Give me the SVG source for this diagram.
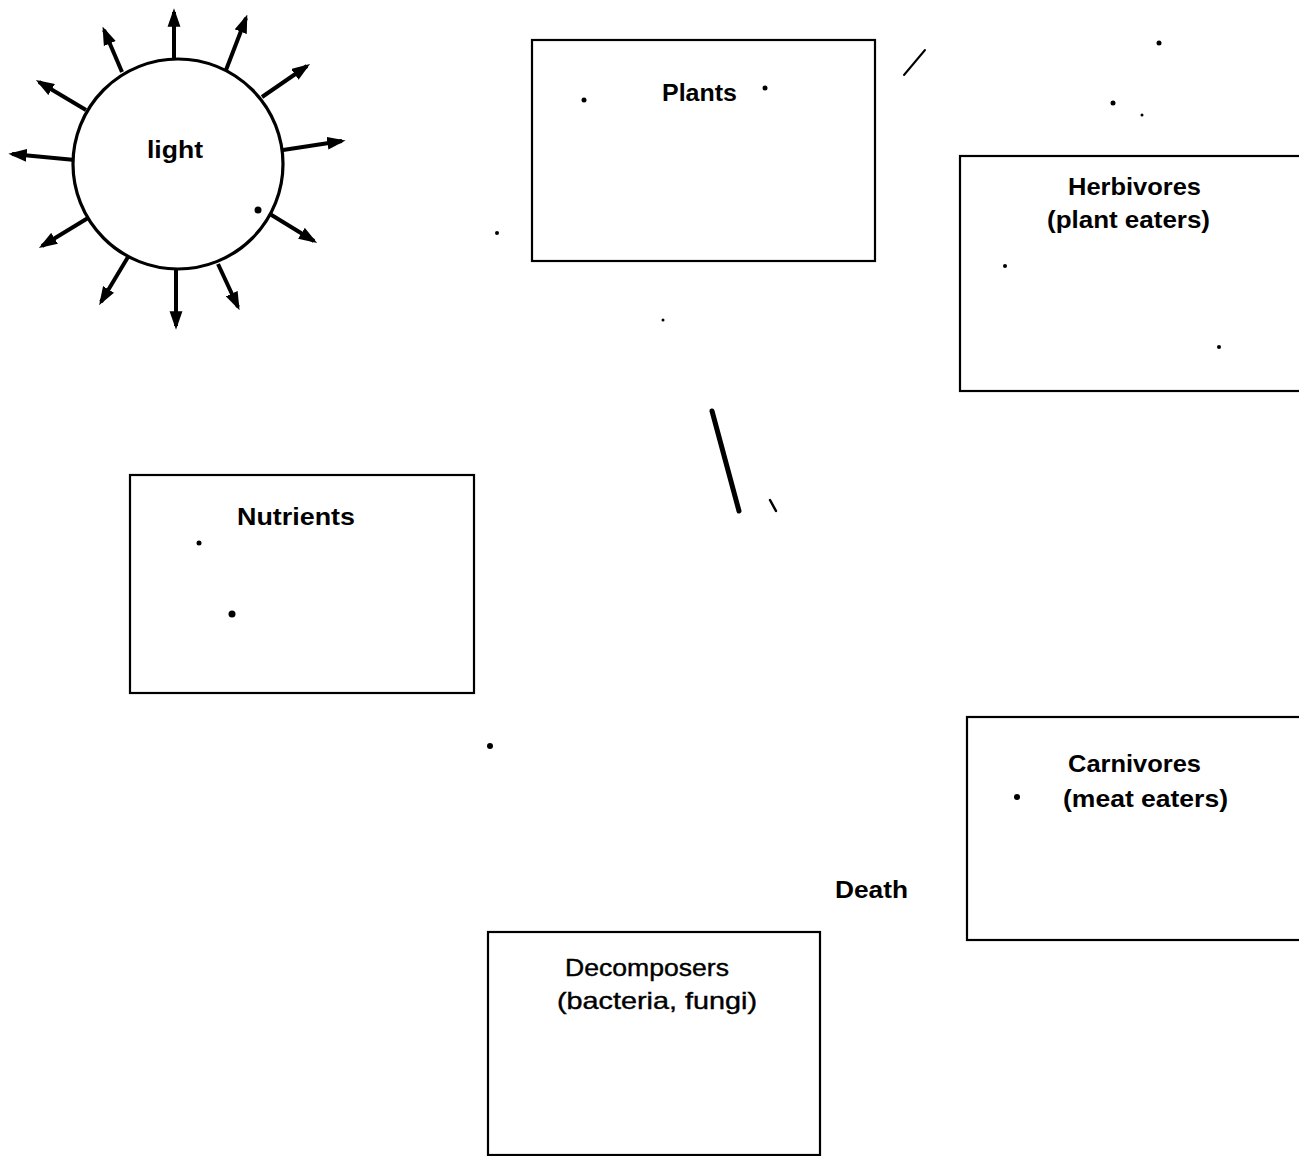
<svg xmlns="http://www.w3.org/2000/svg" width="1299" height="1156" viewBox="0 0 1299 1156">
  <style>
    .box { fill: #ffffff; stroke: #000000; stroke-width: 2.2; }
    .lbl { font-family: "Liberation Sans", Arial, sans-serif; font-size: 24px; font-weight: bold; fill: #000000; }
    .lbl2 { font-family: "Liberation Sans", Arial, sans-serif; font-size: 24px; fill: #000000; stroke: #000000; stroke-width: 0.4; }
    .ray { stroke: #000000; stroke-width: 4; fill: none; marker-end: url(#head); }
    .speck { fill: #000000; }
  </style>
  <defs>
    <marker id="head" viewBox="0 0 10 7" refX="8" refY="3.5" markerWidth="4.6" markerHeight="3.3" orient="auto" markerUnits="strokeWidth">
      <path d="M0,0 L10,3.5 L0,7 Z" fill="#000000"/>
    </marker>
  </defs>
  <rect width="1299" height="1156" fill="#ffffff"/>

  <!-- sun with radiating light arrows -->
  <g id="sun">
    <g id="rays">
      <line class="ray" x1="174" y1="58" x2="174" y2="12"/>
      <line class="ray" x1="226" y1="70" x2="246" y2="18"/>
      <line class="ray" x1="262" y1="97" x2="307" y2="66"/>
      <line class="ray" x1="283" y1="150" x2="342" y2="141"/>
      <line class="ray" x1="265" y1="211" x2="314" y2="241"/>
      <line class="ray" x1="218" y1="264" x2="238" y2="307"/>
      <line class="ray" x1="176" y1="269" x2="176" y2="326"/>
      <line class="ray" x1="128" y1="257" x2="101" y2="302"/>
      <line class="ray" x1="88" y1="218" x2="42" y2="246"/>
      <line class="ray" x1="75" y1="160" x2="12" y2="154"/>
      <line class="ray" x1="86" y1="110" x2="39" y2="82"/>
      <line class="ray" x1="122" y1="72" x2="104" y2="30"/>
    </g>
    <circle cx="178" cy="164" r="105" fill="#ffffff" stroke="#000000" stroke-width="3.2"/>
    <text class="lbl" x="175" y="158" text-anchor="middle" textLength="56" lengthAdjust="spacingAndGlyphs">light</text>
  </g>

  <g id="plants">
    <rect class="box" x="532" y="40" width="343" height="221"/>
    <text class="lbl" x="662" y="101" textLength="75" lengthAdjust="spacingAndGlyphs">Plants</text>
  </g>

  <g id="herbivores">
    <rect class="box" x="960" y="156" width="345" height="235"/>
    <text class="lbl" x="1068" y="195" textLength="133" lengthAdjust="spacingAndGlyphs">Herbivores</text>
    <text class="lbl" x="1047" y="228" textLength="163" lengthAdjust="spacingAndGlyphs">(plant eaters)</text>
  </g>

  <g id="nutrients">
    <rect class="box" x="130" y="475" width="344" height="218"/>
    <text class="lbl" x="237" y="525" textLength="118" lengthAdjust="spacingAndGlyphs">Nutrients</text>
  </g>

  <g id="carnivores">
    <rect class="box" x="967" y="717" width="338" height="223"/>
    <text class="lbl" x="1068" y="772" textLength="133" lengthAdjust="spacingAndGlyphs">Carnivores</text>
    <text class="lbl" x="1063" y="807" textLength="165" lengthAdjust="spacingAndGlyphs">(meat eaters)</text>
  </g>

  <g id="decomposers">
    <rect class="box" x="488" y="932" width="332" height="223"/>
    <text class="lbl2" x="565" y="976" textLength="164" lengthAdjust="spacingAndGlyphs">Decomposers</text>
    <text class="lbl2" x="557" y="1009" textLength="200" lengthAdjust="spacingAndGlyphs">(bacteria, fungi)</text>
  </g>

  <g id="death">
    <text class="lbl" x="835" y="898" textLength="73" lengthAdjust="spacingAndGlyphs">Death</text>
  </g>

  <!-- pen strokes between the boxes -->
  <g id="connectors">
    <path d="M712,411 L739,511" stroke="#000000" stroke-width="5" stroke-linecap="round" fill="none"/>
    <path d="M904,75 L925,50" stroke="#000000" stroke-width="2" stroke-linecap="round" fill="none"/>
    <path d="M770,500 L776,511" stroke="#000000" stroke-width="2.5" stroke-linecap="round" fill="none"/>
  </g>

  <!-- small marks -->
  <g id="marks">
    <circle class="speck" cx="584" cy="100" r="2.5"/>
    <circle class="speck" cx="765" cy="88" r="2.5"/>
    <circle class="speck" cx="1159" cy="43" r="2.5"/>
    <circle class="speck" cx="1017" cy="797" r="3"/>
    <circle class="speck" cx="232" cy="614" r="3.5"/>
    <circle class="speck" cx="199" cy="543" r="2.5"/>
    <circle class="speck" cx="490" cy="746" r="3"/>
    <circle class="speck" cx="497" cy="233" r="2"/>
    <circle class="speck" cx="1005" cy="266" r="2"/>
    <circle class="speck" cx="1219" cy="347" r="2"/>
    <circle class="speck" cx="663" cy="320" r="1.5"/>
    <circle class="speck" cx="1113" cy="103" r="2.5"/>
    <circle class="speck" cx="1142" cy="115" r="1.5"/>
    <circle class="speck" cx="258" cy="210" r="3.5"/>
  </g>
</svg>
